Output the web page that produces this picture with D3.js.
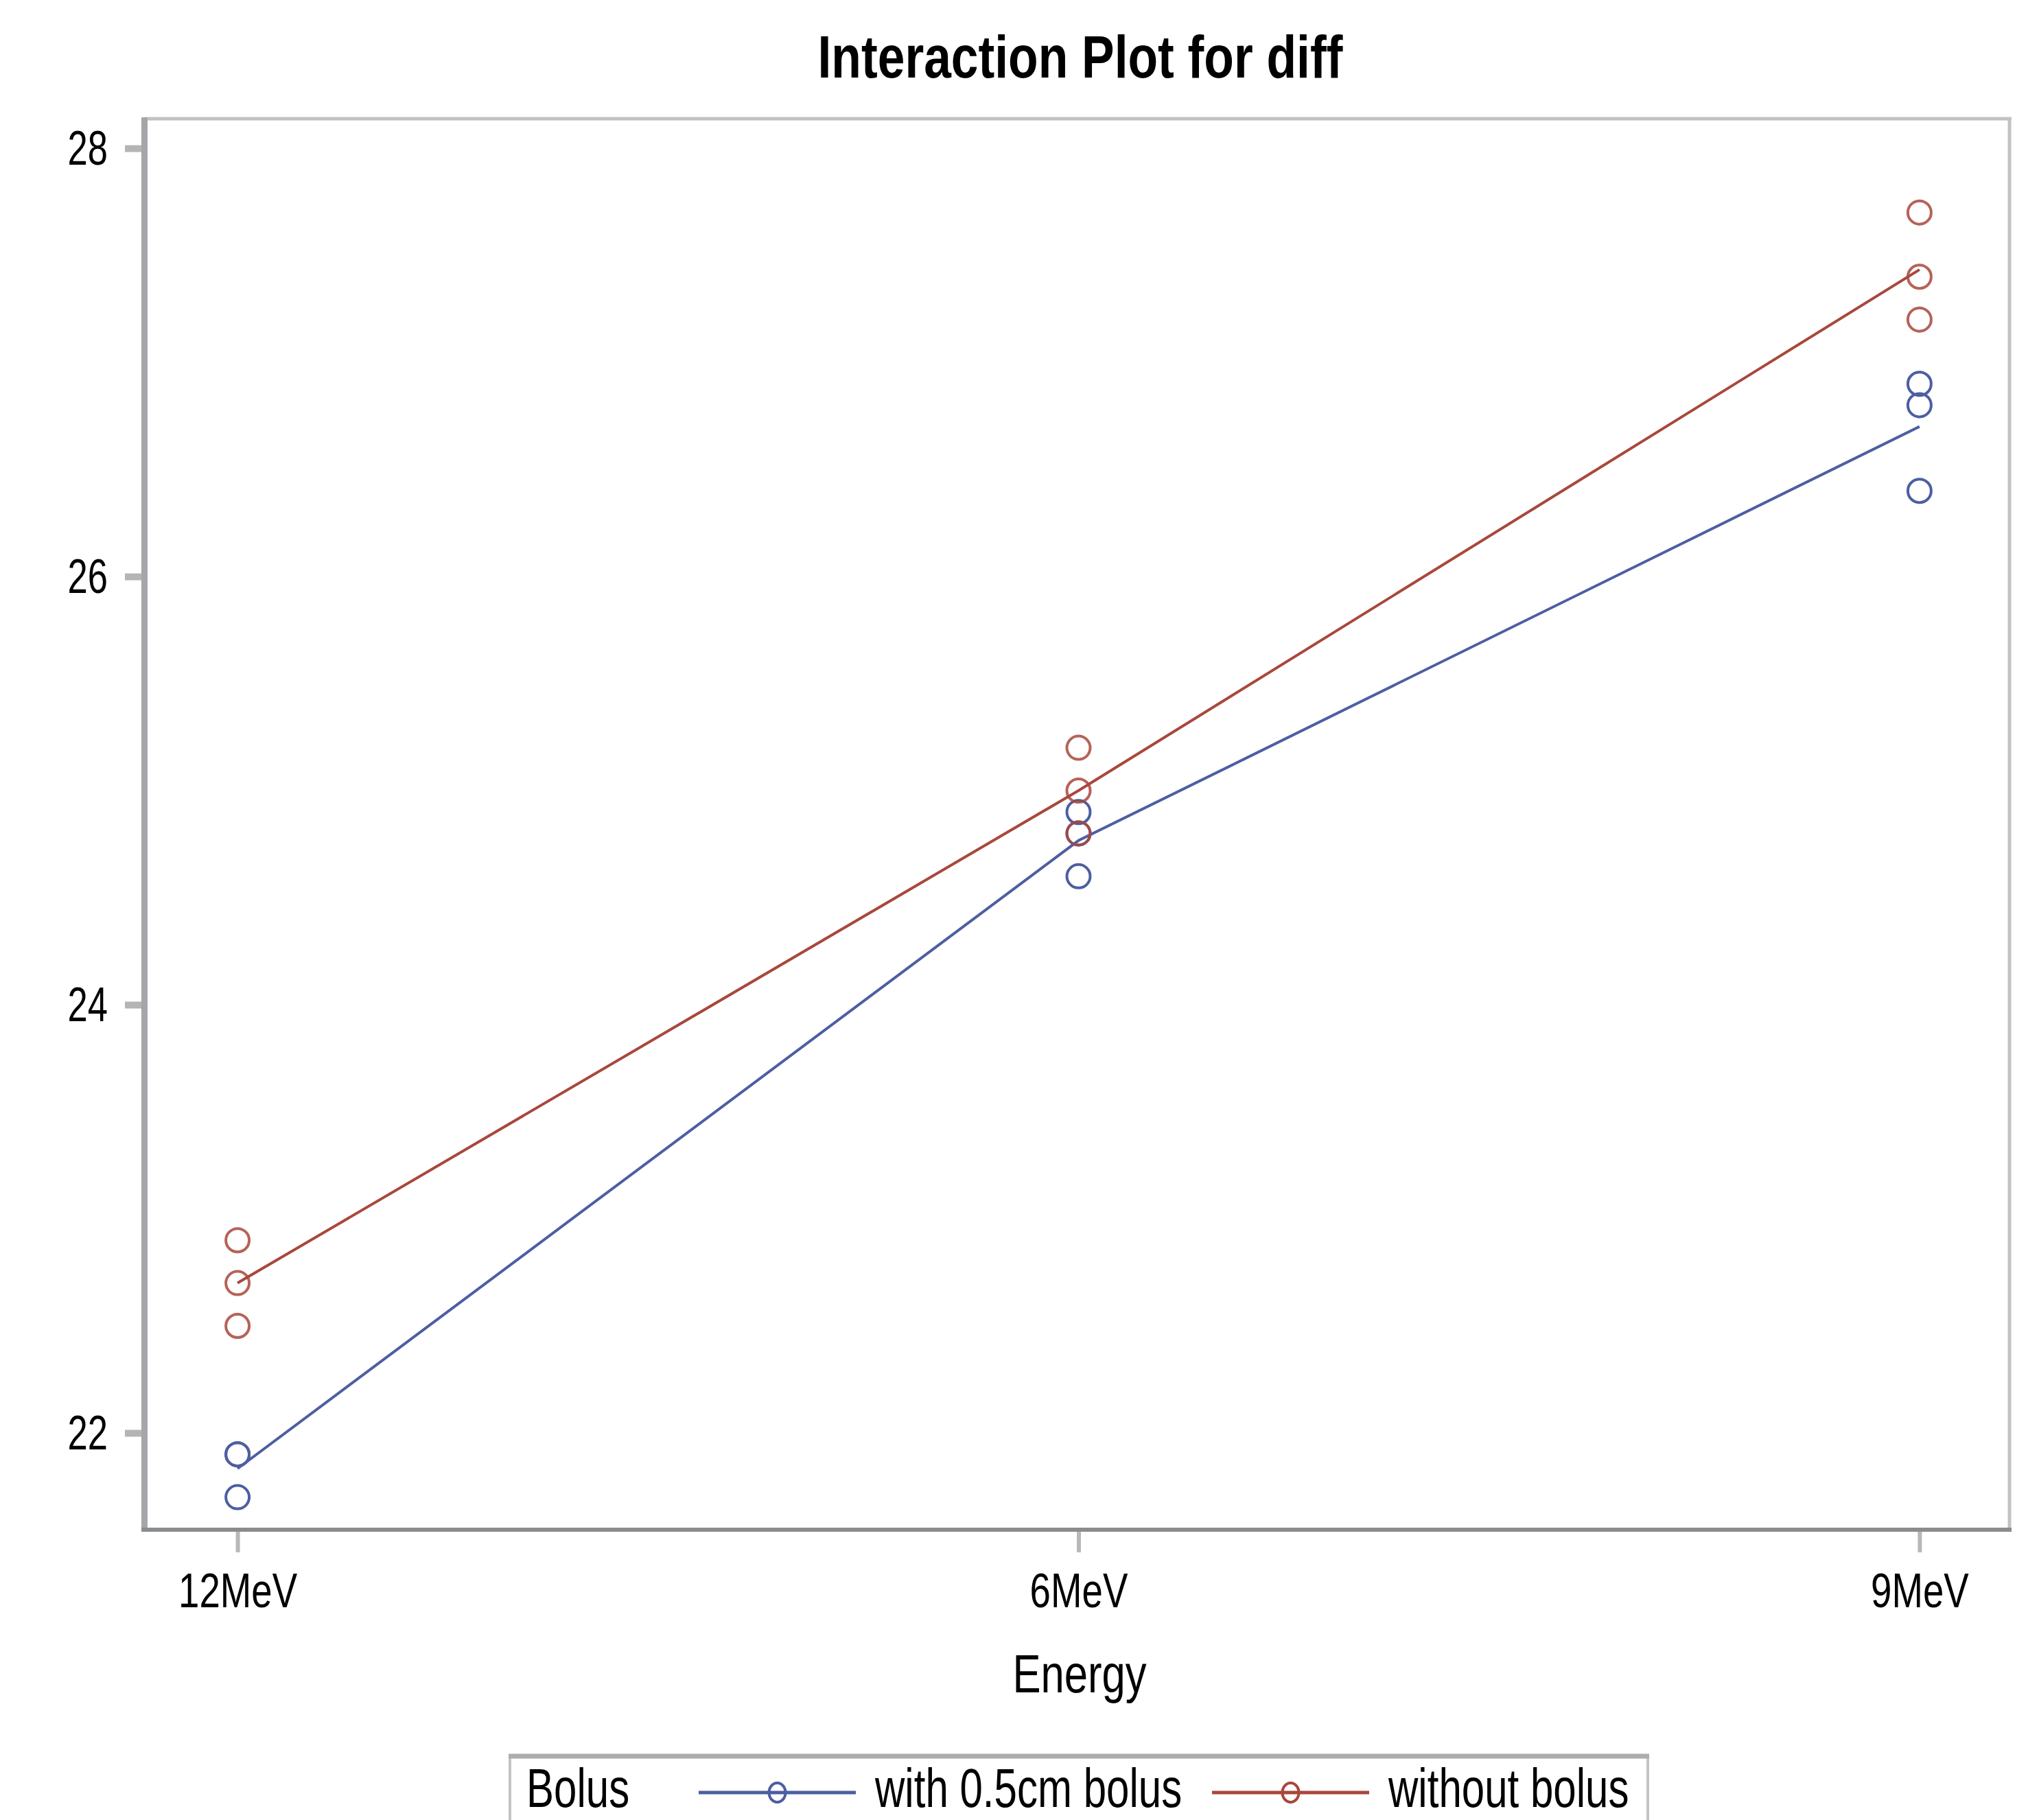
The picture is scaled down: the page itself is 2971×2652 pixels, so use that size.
<!DOCTYPE html>
<html>
<head>
<meta charset="utf-8">
<script src="https://cdn.jsdelivr.net/npm/d3@7"></script>
<style>
  html, body { margin: 0; padding: 0; background: #ffffff; }
  svg { display: block; }
  text { font-family: "Liberation Sans", Arial, sans-serif; fill: #000; }
</style>
</head>
<body>
<script>
// ---- data ----
const energyLevels = ["12MeV", "6MeV", "9MeV"];
const seriesNames = ["with 0.5cm bolus", "without bolus"];
const withBolusValues = [
  [21.9, 21.9, 21.7],   // 12MeV
  [24.9, 24.8, 24.6],   // 6MeV
  [26.9, 26.8, 26.4]    // 9MeV
];
const withoutBolusValues = [
  [22.9, 22.7, 22.5],   // 12MeV
  [25.2, 25.0, 24.8],   // 6MeV
  [27.7, 27.4, 27.2]    // 9MeV
];
const yTickValues = [22, 24, 26, 28];
const titleText = "Interaction Plot for diff";
const xTitle = "Energy";
const legendTitle = "Bolus";

// ---- layout ----
const W = 2971, H = 2652;
const plotL = 215, plotR = 2928, plotT = 173, plotB = 2229;
const colors = ["#4d5ea2", "#a9473c"];

const svg = d3.select("body").append("svg").attr("width", W).attr("height", H);
svg.append("rect").attr("width", W).attr("height", H).attr("fill", "#fff");

const x = d3.scalePoint().domain(energyLevels).range([plotL, plotR]).padding(0.107);
const y = d3.scaleLinear().domain([21.548, 28.138]).range([plotB, plotT]);

function condense(sel, factor) {
  sel.each(function() {
    const len = this.getComputedTextLength();
    d3.select(this).attr("textLength", len * factor).attr("lengthAdjust", "spacingAndGlyphs");
  });
}

// title
svg.append("text").attr("x", 1574).attr("y", 113).attr("text-anchor", "middle")
  .attr("font-size", 87).attr("font-weight", "bold").text(titleText)
  .call(condense, 0.82);

// frame
svg.append("line").attr("x1", plotL - 4).attr("x2", plotR + 3).attr("y1", plotT).attr("y2", plotT)
  .attr("stroke", "#c2c2c2").attr("stroke-width", 5);
svg.append("line").attr("x1", plotR).attr("x2", plotR).attr("y1", plotT).attr("y2", plotB)
  .attr("stroke", "#c2c2c2").attr("stroke-width", 5);

// y axis
const yAxis = d3.axisLeft(y).tickValues(yTickValues).tickSize(24).tickPadding(25).tickFormat(d3.format("d"));
const gy = svg.append("g").attr("transform", `translate(${plotL - 9},0)`).call(yAxis);
gy.select(".domain").remove();
gy.selectAll(".tick line").attr("stroke", "#b4b4b4").attr("stroke-width", 10);
gy.selectAll(".tick text").attr("font-size", 71).attr("dy", "0.33em")
  .attr("font-family", "Liberation Sans, Arial, sans-serif").attr("fill", "#000")
  .call(condense, 0.74);
svg.append("line").attr("x1", plotL - 4.5).attr("x2", plotL - 4.5).attr("y1", plotT - 2).attr("y2", plotB + 3)
  .attr("stroke", "#a4a7a9").attr("stroke-width", 9);

// x axis
const xAxis = d3.axisBottom(x).tickSize(30).tickPadding(30);
const gx = svg.append("g").attr("transform", `translate(0,${plotB + 3})`).call(xAxis);
gx.select(".domain").remove();
gx.selectAll(".tick line").attr("stroke", "#b8b8b8").attr("stroke-width", 6);
gx.selectAll(".tick text").attr("font-size", 71).attr("dy", "0.71em")
  .attr("font-family", "Liberation Sans, Arial, sans-serif").attr("fill", "#000")
  .call(condense, 0.77);
svg.append("line").attr("x1", plotL - 9).attr("x2", plotR + 3).attr("y1", plotB).attr("y2", plotB)
  .attr("stroke", "#8a8c8e").attr("stroke-width", 6);

svg.append("text").attr("x", 1573).attr("y", 2466).attr("text-anchor", "middle")
  .attr("font-size", 78).text(xTitle).call(condense, 0.79);

// data marks
const allSeries = [withBolusValues, withoutBolusValues];
const lineGen = d3.line().x(d => x(d.e)).y(d => y(d.v));
allSeries.forEach((vals, si) => {
  const means = energyLevels.map((e, i) => ({ e, v: d3.mean(vals[i]) }));
  svg.append("path").datum(means).attr("d", lineGen)
    .attr("fill", "none").attr("stroke", colors[si]).attr("stroke-width", 4);
  const pts = [];
  energyLevels.forEach((e, i) => vals[i].forEach(v => pts.push({ e, v })));
  svg.append("g").selectAll("circle").data(pts).join("circle")
    .attr("cx", d => x(d.e)).attr("cy", d => y(d.v)).attr("r", 17)
    .attr("fill", "none").attr("stroke", colors[si]).attr("stroke-width", 4)
    .attr("stroke-opacity", si === 1 ? 0.85 : 1);
});

// legend
const lg = svg.append("g");
lg.append("rect").attr("x", 743).attr("y", 2559).attr("width", 1658).attr("height", 100)
  .attr("fill", "#fff").attr("stroke", "#c4c4c4").attr("stroke-width", 4);
lg.append("line").attr("x1", 741).attr("x2", 2403).attr("y1", 2559).attr("y2", 2559)
  .attr("stroke", "#adadad").attr("stroke-width", 7);
lg.append("text").attr("x", 767).attr("y", 2633).attr("font-size", 79).text(legendTitle).call(condense, 0.76);
const legendItems = [
  { name: seriesNames[0], x1: 1018, x2: 1247, tx: 1275, c: colors[0] },
  { name: seriesNames[1], x1: 1766, x2: 1995, tx: 2023, c: colors[1] }
];
legendItems.forEach(it => {
  lg.append("line").attr("x1", it.x1).attr("x2", it.x2).attr("y1", 2612).attr("y2", 2612)
    .attr("stroke", it.c).attr("stroke-width", 5);
  lg.append("ellipse").attr("cx", (it.x1 + it.x2) / 2).attr("cy", 2612).attr("rx", 12).attr("ry", 14)
    .attr("fill", "#fff").attr("fill-opacity", 0).attr("stroke", it.c).attr("stroke-width", 4);
  lg.append("text").attr("x", it.tx).attr("y", 2633).attr("font-size", 79).text(it.name).call(condense, 0.76);
});
</script>
</body>
</html>
